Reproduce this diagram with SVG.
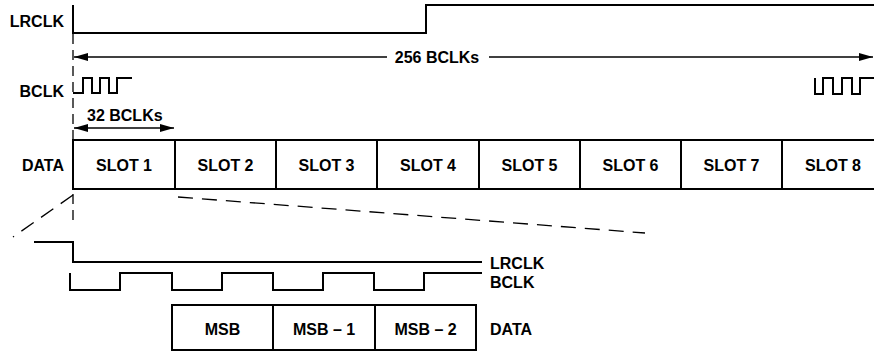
<svg xmlns="http://www.w3.org/2000/svg" width="874" height="354" viewBox="0 0 874 354">
<defs>
<style>
.sig{fill:none;stroke:#000;stroke-width:2;stroke-linejoin:miter}
.box{fill:#fff;stroke:#000;stroke-width:2}
.arr{fill:none;stroke:#000;stroke-width:1.6}
.dash{fill:none;stroke:#000;stroke-width:1.3;stroke-dasharray:15 9}
.vdash{fill:none;stroke:#000;stroke-width:1.3;stroke-dasharray:10 6}
.t{font-family:"Liberation Sans",Arial,sans-serif;font-weight:bold;font-size:16px;fill:#000}
.m{text-anchor:middle}
.e{text-anchor:end}
</style>
<marker id="ah" viewBox="0 0 14 8" refX="14" refY="4" markerWidth="14" markerHeight="8" markerUnits="userSpaceOnUse" orient="auto-start-reverse">
<path d="M0,0 L14,4 L0,8 Z" fill="#000"/>
</marker>
</defs>
<rect width="874" height="354" fill="#fff"/>
<g id="connectors">
<path class="vdash" d="M73,34 V224"/>
<path class="dash" d="M73,195 L13,237"/>
<path class="dash" d="M178,197 L645,233"/>
<path class="arr" d="M74,57 H387" marker-start="url(#ah)"/>
<path class="arr" d="M489,57 H873" marker-end="url(#ah)"/>
<path class="arr" d="M74,128 H174" marker-start="url(#ah)" marker-end="url(#ah)"/>
</g>
<g id="lrclk">
<path class="sig" d="M73,5 V33 H426 V5 H874"/>
<text class="t e" x="64" y="26.5">LRCLK</text>
</g>
<g id="bclk">
<path class="sig" d="M73,93 H83 V78 H92 V93 H100 V78 H109 V93 H117 V78 H132"/>
<path class="sig" d="M815,78 V94 H823 V78 H833 V94 H842 V78 H852 V94 H860 V78 H874"/>
<text class="t e" x="64" y="97">BCLK</text>
</g>
<g id="label256">
<text class="t m" x="437" y="63">256 BCLKs</text>
</g>
<g id="label32">
<text class="t" x="87" y="121">32 BCLKs</text>
</g>
<g id="data">
<text class="t e" x="64" y="171">DATA</text>
<rect class="box" x="73" y="140" width="812" height="49"/>
<path class="sig" d="M175,140 V189 M276,140 V189 M377,140 V189 M479,140 V189 M580,140 V189 M681,140 V189 M782,140 V189"/>
<text class="t m" x="124" y="171">SLOT 1</text>
<text class="t m" x="225.5" y="171">SLOT 2</text>
<text class="t m" x="326.5" y="171">SLOT 3</text>
<text class="t m" x="428" y="171">SLOT 4</text>
<text class="t m" x="529.5" y="171">SLOT 5</text>
<text class="t m" x="630.5" y="171">SLOT 6</text>
<text class="t m" x="731.5" y="171">SLOT 7</text>
<text class="t m" x="833" y="171">SLOT 8</text>
</g>
<g id="lrclk-detail">
<path class="sig" d="M34,242 H73 V262 H482"/>
<text class="t" x="490" y="269">LRCLK</text>
</g>
<g id="bclk-detail">
<path class="sig" d="M70,273 V290 H120 V273 H172 V290 H222 V273 H273 V290 H323 V273 H374 V290 H424 V273 H482"/>
<text class="t" x="490" y="287.5">BCLK</text>
</g>
<g id="data-detail">
<rect class="box" x="172" y="305" width="304" height="45"/>
<path class="sig" d="M273,305 V350 M375,305 V350"/>
<text class="t m" x="222.5" y="334.5">MSB</text>
<text class="t m" x="324" y="334.5">MSB – 1</text>
<text class="t m" x="425.5" y="334.5">MSB – 2</text>
<text class="t" x="490" y="334.5">DATA</text>
</g>
</svg>
